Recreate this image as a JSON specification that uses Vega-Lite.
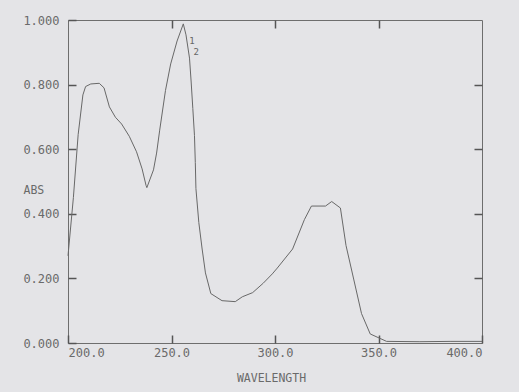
{
  "$schema": "https://vega.github.io/schema/vega-lite/v6.json",
  "width": 414,
  "height": 323,
  "autosize": {"type": "none"},
  "padding": {"left": 68, "top": 20, "right": 37, "bottom": 49},
  "background": "#e4e4e7",
  "config": {
    "view": {"stroke": "#6e6e6e", "strokeWidth": 1},
    "axis": {
      "grid": false,
      "domain": false,
      "labelFont": "DejaVu Sans Mono",
      "labelFontSize": 12,
      "labelColor": "#6a6a6a",
      "titleFont": "DejaVu Sans Mono",
      "titleFontSize": 11.5,
      "titleFontWeight": "normal",
      "titleColor": "#6a6a6a",
      "tickColor": "#555555",
      "tickWidth": 1.5,
      "tickSize": -8
    }
  },
  "datasets": {
    "spectrum": [
      {"wavelength": 200.0, "abs": 0.27},
      {"wavelength": 202.6, "abs": 0.45},
      {"wavelength": 204.9, "abs": 0.645},
      {"wavelength": 207.2, "abs": 0.768},
      {"wavelength": 208.5, "abs": 0.794},
      {"wavelength": 211.0, "abs": 0.802},
      {"wavelength": 215.1, "abs": 0.804},
      {"wavelength": 217.4, "abs": 0.79},
      {"wavelength": 220.0, "abs": 0.731},
      {"wavelength": 222.9, "abs": 0.699},
      {"wavelength": 225.9, "abs": 0.678},
      {"wavelength": 229.6, "abs": 0.64},
      {"wavelength": 233.1, "abs": 0.592},
      {"wavelength": 235.8, "abs": 0.539},
      {"wavelength": 237.7, "abs": 0.488},
      {"wavelength": 238.1, "abs": 0.481},
      {"wavelength": 241.3, "abs": 0.536},
      {"wavelength": 242.8, "abs": 0.588},
      {"wavelength": 244.3, "abs": 0.659},
      {"wavelength": 247.1, "abs": 0.782},
      {"wavelength": 249.6, "abs": 0.864},
      {"wavelength": 252.7, "abs": 0.935},
      {"wavelength": 255.7, "abs": 0.988},
      {"wavelength": 257.0, "abs": 0.954},
      {"wavelength": 258.7, "abs": 0.882},
      {"wavelength": 259.5, "abs": 0.808},
      {"wavelength": 260.3, "abs": 0.726},
      {"wavelength": 261.1, "abs": 0.642},
      {"wavelength": 261.5, "abs": 0.559},
      {"wavelength": 261.8, "abs": 0.478},
      {"wavelength": 263.2, "abs": 0.373},
      {"wavelength": 264.8, "abs": 0.291},
      {"wavelength": 266.4, "abs": 0.217},
      {"wavelength": 269.0, "abs": 0.153},
      {"wavelength": 274.4, "abs": 0.131},
      {"wavelength": 280.8, "abs": 0.128},
      {"wavelength": 284.2, "abs": 0.143},
      {"wavelength": 289.2, "abs": 0.156},
      {"wavelength": 294.3, "abs": 0.185},
      {"wavelength": 298.7, "abs": 0.214},
      {"wavelength": 301.1, "abs": 0.232},
      {"wavelength": 308.5, "abs": 0.291},
      {"wavelength": 314.2, "abs": 0.382},
      {"wavelength": 317.6, "abs": 0.424},
      {"wavelength": 324.4, "abs": 0.424},
      {"wavelength": 327.4, "abs": 0.438},
      {"wavelength": 331.6, "abs": 0.418},
      {"wavelength": 334.3, "abs": 0.302},
      {"wavelength": 338.0, "abs": 0.198},
      {"wavelength": 341.8, "abs": 0.091},
      {"wavelength": 346.0, "abs": 0.028},
      {"wavelength": 353.9, "abs": 0.005},
      {"wavelength": 370.0, "abs": 0.004},
      {"wavelength": 385.0, "abs": 0.005},
      {"wavelength": 400.0, "abs": 0.005}
    ],
    "peaks": [
      {"wavelength": 258.6, "abs": 0.935, "label": "1"},
      {"wavelength": 260.6, "abs": 0.9, "label": "2"}
    ]
  },
  "layer": [
    {
      "data": {"name": "spectrum"},
      "mark": {"type": "line", "stroke": "#686868", "strokeWidth": 1, "interpolate": "linear"},
      "encoding": {
        "x": {
          "field": "wavelength", "type": "quantitative",
          "scale": {"domain": [200, 400], "nice": false, "zero": false},
          "axis": {
            "orient": "bottom",
            "values": [200, 250, 300, 350, 400],
            "format": ".1f",
            "labelPadding": 12,
            "title": "WAVELENGTH",
            "titleX": 203,
            "titleY": 35,
            "titleAlign": "center",
            "titleBaseline": "middle"
          }
        },
        "y": {
          "field": "abs", "type": "quantitative",
          "scale": {"domain": [0, 1], "nice": false},
          "axis": {
            "orient": "left",
            "values": [0, 0.2, 0.4, 0.6, 0.8, 1.0],
            "format": ".3f",
            "labelPadding": 17,
            "title": "ABS",
            "titleAngle": 0,
            "titleX": -45,
            "titleY": 170,
            "titleAlign": "left",
            "titleBaseline": "middle"
          }
        }
      }
    },
    {
      "data": {"name": "spectrum"},
      "mark": {"type": "point", "opacity": 0},
      "encoding": {
        "x": {
          "field": "wavelength", "type": "quantitative",
          "axis": {"orient": "top", "values": [250, 300, 350], "labels": false, "title": null}
        },
        "y": {
          "field": "abs", "type": "quantitative",
          "axis": {"orient": "right", "values": [0.2, 0.4, 0.6, 0.8], "labels": false, "title": null}
        }
      }
    },
    {
      "data": {"name": "peaks"},
      "mark": {"type": "text", "font": "DejaVu Sans Mono", "fontSize": 9, "color": "#666", "align": "left", "baseline": "middle"},
      "encoding": {
        "x": {"field": "wavelength", "type": "quantitative", "axis": null},
        "y": {"field": "abs", "type": "quantitative", "axis": null},
        "text": {"field": "label"}
      }
    }
  ],
  "resolve": {"axis": {"x": "independent", "y": "independent"}}
}
